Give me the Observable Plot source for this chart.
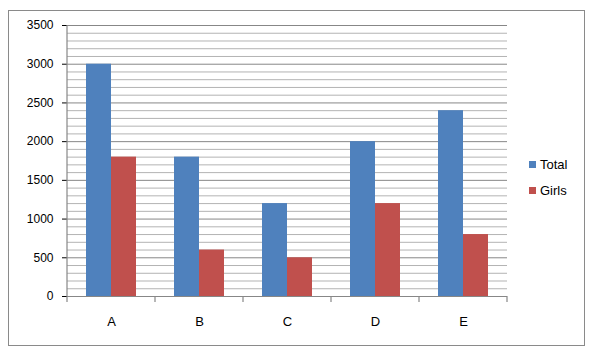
<!DOCTYPE html>
<html>
<head>
<meta charset="utf-8">
<script src="https://cdn.jsdelivr.net/npm/d3@7"></script>
<script src="https://cdn.jsdelivr.net/npm/@observablehq/plot@0.6"></script>
<style>
  body { margin: 0; background: #fff; font-family: "Liberation Sans", Arial, sans-serif; }
  #wrap { position: relative; width: 592px; height: 358px; overflow: hidden; }
  #border { position: absolute; left: 8px; top: 10px; width: 575px; height: 334px; border: 1.5px solid #8a8a8a; pointer-events: none; }
  #legend { position: absolute; left: 529px; top: 151px; font-size: 13px; color: #000; }
  .item { display: flex; align-items: center; height: 26px; }
  .sw { width: 7px; height: 7px; margin-right: 4px; }
  svg { position: absolute; left: 0; top: 0; }
</style>
</head>
<body>
<div id="wrap">
  <div id="legend"></div>
  <div id="border"></div>
</div>
<script>
const categories = ["A", "B", "C", "D", "E"];
const seriesNames = ["Total", "Girls"];
const totalValues = [3000, 1800, 1200, 2000, 2400];
const girlsValues = [1800, 600, 500, 1200, 800];
const yTickValues = [0, 500, 1000, 1500, 2000, 2500, 3000, 3500];
const yMinorStep = 100;
const colors = ["#4F81BD", "#C0504D"];

const rows = [];
categories.forEach((c, i) => {
  rows.push({category: c, series: "Total", value: totalValues[i]});
  rows.push({category: c, series: "Girls", value: girlsValues[i]});
});
const minorTicks = d3.range(0, 3500 + 1, yMinorStep).filter(v => v % 500 !== 0);

const W = 592, H = 358;
const chart = Plot.plot({
  width: W, height: H,
  marginLeft: 66, marginRight: 84, marginTop: 25, marginBottom: 62,
  style: {fontFamily: "'Liberation Sans', Arial, sans-serif", fontSize: "12px", color: "#000", background: "transparent"},
  fx: {domain: categories, paddingInner: 0, paddingOuter: 0, label: null, tickSize: 0, tickPadding: 20, axis: "bottom"},
  x: {domain: seriesNames, paddingInner: 0, paddingOuter: 0.76, axis: null},
  y: {domain: [0, 3500], ticks: yTickValues, tickSize: 5, tickPadding: 9, label: null, tickFormat: d => String(d)},
  color: {domain: seriesNames, range: colors},
  marks: [
    Plot.ruleY(minorTicks, {stroke: "#b3b3b3", strokeWidth: 1}),
    Plot.ruleY(yTickValues, {stroke: "#878787", strokeWidth: 1}),
    Plot.barY(rows, {fx: "category", x: "series", y: "value", fill: "series", inset: 0}),
    Plot.ruleY([0], {stroke: "#878787", strokeWidth: 1.2})
  ]
});

// axis lines and category boundary ticks drawn from Plot's own scales
const svg = d3.select(chart);
svg.selectAll("[aria-label='y-axis tick']").attr("stroke", "#878787");
svg.selectAll("[aria-label='fx-axis tick label']").attr("font-size", "13px");
const fx = chart.scale("fx");
const y = chart.scale("y");
const y0 = y.apply(0), yTop = y.apply(3500);
const bounds = categories.map(c => fx.apply(c)).concat([fx.apply(categories[categories.length - 1]) + fx.bandwidth]);
const g = svg.append("g").attr("stroke", "#878787").attr("stroke-width", 1.2);
g.append("line").attr("x1", bounds[0]).attr("x2", bounds[0]).attr("y1", yTop).attr("y2", y0);
bounds.forEach(b => {
  g.append("line").attr("x1", b).attr("x2", b).attr("y1", y0).attr("y2", y0 + 6);
});

document.getElementById("wrap").prepend(chart);

const legend = document.getElementById("legend");
seriesNames.forEach((s, i) => {
  const it = document.createElement("div");
  it.className = "item";
  it.innerHTML = `<div class="sw" style="background:${colors[i]}"></div><span>${s}</span>`;
  legend.appendChild(it);
});
</script>
</body>
</html>
